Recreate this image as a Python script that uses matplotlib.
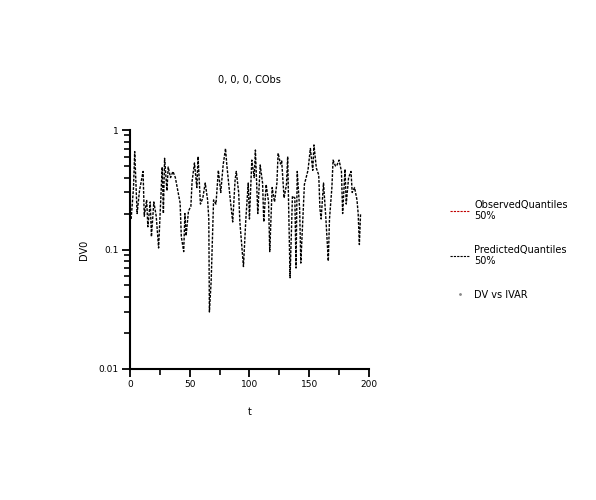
import matplotlib
matplotlib.use('Agg')
import matplotlib.pyplot as plt
from matplotlib.lines import Line2D
from matplotlib.ticker import LogLocator, NullFormatter, FixedLocator

# predicted 50% quantile series
t = [1, 3, 4, 6, 8, 11, 12, 14, 15, 17, 18, 20, 22, 24, 27, 28, 29, 31, 32, 34,
     36, 38, 42, 43, 45, 46, 47, 49, 51, 52, 54, 56, 57, 59, 61, 63, 65, 66, 66.5, 68,
     70, 72, 74, 76, 78, 80, 81, 84, 86, 88, 89, 91, 92, 95, 97, 99, 100, 102, 104, 105,
     107, 109, 111, 112, 114, 116, 117, 119, 121, 123, 124, 126, 127, 129, 131, 132, 134, 136, 138, 139,
     140, 142, 143, 145, 146, 149, 151, 153, 154, 156, 158, 159, 160, 162, 164, 166, 167, 169, 170, 172,
     173, 175, 177, 178, 180, 181, 183, 185, 186, 188, 190, 191, 192, 193]
dv = [0.18, 0.33, 0.66, 0.20, 0.31, 0.45, 0.19, 0.26, 0.155, 0.25, 0.128, 0.25, 0.19, 0.103, 0.49, 0.20, 0.58, 0.31, 0.49, 0.40,
      0.45, 0.40, 0.245, 0.128, 0.096, 0.20, 0.13, 0.21, 0.23, 0.37, 0.53, 0.33, 0.60, 0.24, 0.27, 0.36, 0.26, 0.18, 0.03, 0.055,
      0.26, 0.24, 0.46, 0.30, 0.51, 0.70, 0.52, 0.26, 0.17, 0.38, 0.45, 0.30, 0.17, 0.072, 0.18, 0.36, 0.18, 0.56, 0.40, 0.68,
      0.20, 0.51, 0.36, 0.17, 0.35, 0.25, 0.096, 0.33, 0.25, 0.36, 0.64, 0.52, 0.55, 0.27, 0.35, 0.60, 0.058, 0.28, 0.27, 0.07,
      0.45, 0.22, 0.077, 0.21, 0.35, 0.46, 0.70, 0.46, 0.75, 0.48, 0.42, 0.22, 0.18, 0.36, 0.18, 0.08, 0.18, 0.33, 0.56, 0.50,
      0.50, 0.56, 0.45, 0.20, 0.47, 0.24, 0.40, 0.45, 0.30, 0.33, 0.26, 0.20, 0.11, 0.20]

legend_labels = ['ObservedQuantiles\n50%', 'PredictedQuantiles\n50%', 'DV vs IVAR']

plt.rcParams['font.family'] = ['DejaVu Sans']
fig = plt.figure(figsize=(5.96, 5.0), dpi=100)
ax = fig.add_axes([0.218, 0.262, 0.401, 0.478])

ax.plot(t, dv, color='black', lw=1.0, ls=(0, (2, 1)))

ax.set_yscale('log')
ax.set_ylim(0.01, 1)
ax.set_xlim(0, 200)
ax.yaxis.set_major_locator(FixedLocator([0.01, 0.1, 1]))
ax.yaxis.set_major_formatter(plt.FuncFormatter(lambda v, p: f'{v:g}'))
ax.yaxis.set_minor_locator(LogLocator(base=10, subs=range(2, 10)))
ax.yaxis.set_minor_formatter(NullFormatter())
ax.set_xticks([0, 50, 100, 150, 200])
ax.set_xticks([25, 75, 125, 175], minor=True)

for s in ['top', 'right']:
    ax.spines[s].set_visible(False)
for s in ['left', 'bottom']:
    ax.spines[s].set_linewidth(1.5)
ax.tick_params(axis='both', which='major', length=6, width=1.3, labelsize=6.5, pad=2)
ax.tick_params(axis='both', which='minor', length=4, width=1.2)

ax.set_title('0, 0, 0, CObs', fontsize=7, pad=34)
ax.set_xlabel('t', fontsize=7, labelpad=13)
ax.set_ylabel('DV0', fontsize=7, labelpad=7)

handles = [Line2D([], [], color='#c00000', lw=0.8, ls=(0, (2, 1))),
           Line2D([], [], color='black', lw=0.8, ls=(0, (2, 1))),
           Line2D([], [], color='#888888', marker='.', ms=2, lw=0)]
fig.legend(handles, legend_labels, loc='upper left', bbox_to_anchor=(0.74, 0.618),
           frameon=False, fontsize=7, handlelength=2.0, handletextpad=0.5,
           labelspacing=2.4)

fig.savefig('out.png', dpi=100)
